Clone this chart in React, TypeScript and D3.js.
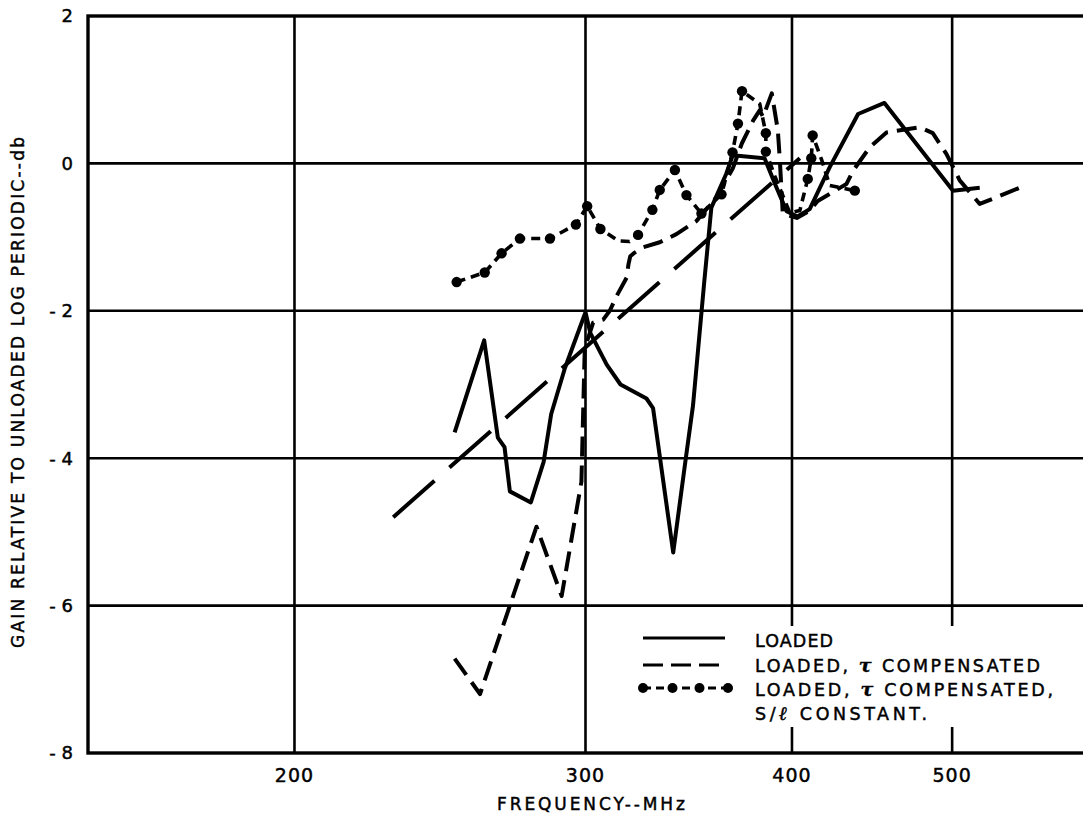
import * as d3 from "d3";

// chart size (matches the reference picture)
const width = 1083,
	height = 816;

const xTicks = [200, 300, 400, 500];
const yTicks = [2, 0, -2, -4, -6, -8];

// LOADED (solid)
const loadedFreq = [250, 260.5, 265.5, 268, 270, 278, 283, 286, 291.5, 300, 302, 309, 315, 326.6, 329.6, 339, 345, 348.5, 354, 357.5, 365, 368.3, 385, 391, 397, 403, 410, 421.6, 438.6, 455, 500.6, 519.6];
const loadedGain = [-3.65, -2.4, -3.72, -3.85, -4.45, -4.6, -4.05, -3.4, -2.78, -2.02, -2.3, -2.73, -3.0, -3.19, -3.32, -5.28, -4.0, -3.28, -1.6, -0.6, -0.14, 0.11, 0.07, -0.3, -0.65, -0.72, -0.62, -0.05, 0.67, 0.82, -0.37, -0.33];

// LOADED, tau compensated (dashed)
const tauFreq = [250, 259, 280.2, 290.2, 298.3, 299.7, 301.1, 303.2, 307.5, 310.3, 313.8, 317.7, 318.5, 319.3, 321.3, 325, 332.7, 340.5, 350.2, 360, 368.3, 373, 378.9, 382.4, 384.2, 388.9, 392.2, 393.3, 394.9, 402.7, 410, 414.6, 431.5, 435.5, 445.8, 456.3, 477.9, 486.7, 496, 505.3, 519.6, 531.8, 549.3];
const tauGain = [-6.72, -7.2, -4.93, -5.87, -4.32, -2.5, -2.37, -2.16, -2.12, -2.0, -1.77, -1.55, -1.37, -1.26, -1.21, -1.14, -1.07, -0.96, -0.78, -0.46, -0.07, 0.27, 0.58, 0.72, 0.63, 0.95, 0.45, 0.04, -0.68, -0.74, -0.64, -0.51, -0.28, -0.1, 0.22, 0.42, 0.49, 0.41, 0.13, -0.23, -0.55, -0.46, -0.33];

// LOADED, tau compensated, S/l constant (dot-dash); slDot marks the plotted points
const slFreq = [250.7, 260.7, 266.9, 273.8, 285.5, 296, 300.7, 306.3, 314, 319, 322.8, 329.3, 332.7, 339.8, 345.3, 352.6, 362.6, 368.2, 371, 373.1, 382.4, 385.7, 385.7, 390.5, 398.8, 404.4, 408.9, 410.9, 411.7, 417, 421.6, 436.6];
const slGain = [-1.61, -1.48, -1.22, -1.02, -1.02, -0.83, -0.58, -0.89, -1.05, -1.06, -0.97, -0.63, -0.36, -0.09, -0.43, -0.68, -0.42, 0.15, 0.54, 0.98, 0.81, 0.41, 0.16, -0.17, -0.67, -0.64, -0.21, 0.07, 0.38, 0.04, -0.3, -0.37];
const slDot = [1, 1, 1, 1, 1, 1, 1, 1, 0, 0, 1, 1, 1, 1, 1, 1, 1, 1, 1, 1, 0, 1, 1, 0, 0, 0, 1, 1, 1, 0, 0, 1];

// long dash trend line
const trendFreq = [229.5, 404.4];
const trendGain = [-4.8, 0.07];

const legendLabels = ["LOADED", "LOADED, τ COMPENSATED", "LOADED, τ COMPENSATED,", "S/ℓ CONSTANT."];

const font = "'DejaVu Sans', sans-serif";
// a thin outline makes the lettering as heavy as the original
const ink = { fill: "#000", stroke: "#000", strokeWidth: 0.45 };

const x = d3.scaleLog().domain([150, 600]).range([88, 1083]);
const y = d3.scaleLinear().domain([-8, 2]).range([753, 16]);

const zip = (fs, gs) => fs.map((f, i) => ({ f, g: gs[i] }));
const line = d3
	.line()
	.x((d) => x(d.f))
	.y((d) => y(d.g));

const yLabel = (d) => (d < 0 ? `- ${-d}` : `${d}`);

// label with the greek / script letters drawn in an italic serif
const Label = ({ text, ...rest }) => {
	const parts = text.split(/(τ|ℓ)/);
	return (
		<text {...rest}>
			{parts.map((p, i) =>
				p === "τ" || p === "ℓ" ? (
					<tspan key={i} fontFamily="'DejaVu Serif', serif" fontStyle="italic" fontWeight="bold" fontSize={19}>
						{p}
					</tspan>
				) : (
					<tspan key={i}>{p}</tspan>
				)
			)}
		</text>
	);
};

export default function App() {
	const [x0, x1] = x.range();
	const [yb, yt] = y.range();
	const slData = zip(slFreq, slGain);

	return (
		<svg width={width} height={height} style={{ position: "absolute", left: 0, top: 0, background: "#fff" }}>
			<rect width={width} height={height} fill="#fff" />

			{/* grid */}
			{xTicks.map((t) => (
				<line key={t} x1={x(t)} x2={x(t)} y1={yt} y2={yb} stroke="#000" strokeWidth={2.6} />
			))}
			{yTicks.slice(1, -1).map((t) => (
				<line key={t} x1={x0} x2={x1} y1={y(t)} y2={y(t)} stroke="#000" strokeWidth={2.6} />
			))}
			<rect x={x0} y={yt} width={x1 - x0 + 4} height={yb - yt} fill="none" stroke="#000" strokeWidth={3.4} />

			{/* legend box hides the grid behind it */}
			<rect x={615} y={626} width={452} height={101} fill="#fff" />

			{/* series */}
			<path d={line(zip(trendFreq, trendGain))} fill="none" stroke="#000" strokeWidth={4} strokeDasharray="55 20" />
			<path d={line(zip(loadedFreq, loadedGain))} fill="none" stroke="#000" strokeWidth={4} strokeLinejoin="round" />
			<path d={line(zip(tauFreq, tauGain))} fill="none" stroke="#000" strokeWidth={4} strokeDasharray="20 9" strokeLinejoin="round" />
			<path d={line(slData)} fill="none" stroke="#000" strokeWidth={3.6} strokeDasharray="9 6" strokeLinejoin="round" />
			{slData.map((d, i) => (slDot[i] ? <circle key={i} cx={x(d.f)} cy={y(d.g)} r={5.2} fill="#000" /> : null))}

			{/* y axis labels */}
			{yTicks.map((t) => (
				<text key={t} x={73} y={y(t)} dy="0.36em" textAnchor="end" fontFamily={font} fontSize={18} {...ink}>
					{yLabel(t)}
				</text>
			))}
			{/* x axis labels */}
			{xTicks.map((t) => (
				<text key={t} x={x(t)} y={782} textAnchor="middle" fontFamily={font} fontSize={19} letterSpacing={1} {...ink}>
					{t}
				</text>
			))}
			<text x={591} y={810} textAnchor="middle" fontFamily={font} fontSize={17} textLength={188} lengthAdjust="spacing" {...ink}>
				FREQUENCY--MHz
			</text>
			<text
				transform={`translate(24,${392.5}) rotate(-90)`}
				textAnchor="middle"
				fontFamily={font}
				fontSize={17}
				textLength={511}
				lengthAdjust="spacing"
				{...ink}
			>
				GAIN RELATIVE TO UNLOADED LOG PERIODIC--db
			</text>

			{/* legend */}
			<line x1={643} x2={725} y1={638} y2={638} stroke="#000" strokeWidth={3} />
			<line x1={643} x2={725} y1={665} y2={665} stroke="#000" strokeWidth={3.2} strokeDasharray="20 8" />
			<line x1={643} x2={728} y1={688} y2={688} stroke="#000" strokeWidth={3} strokeDasharray="8 5" />
			{[643, 672.5, 699.5, 728].map((cx) => (
				<circle key={cx} cx={cx} cy={688} r={5} fill="#000" />
			))}
			{legendLabels.map((s, i) => (
				<Label
					key={i}
					text={s}
					x={755}
					y={[647, 672, 695.5, 720][i]}
					fontFamily={font}
					fontSize={17.5}
					textLength={[78, 285, 298, 172][i]}
					lengthAdjust="spacing"
					{...ink}
				/>
			))}
		</svg>
	);
}
